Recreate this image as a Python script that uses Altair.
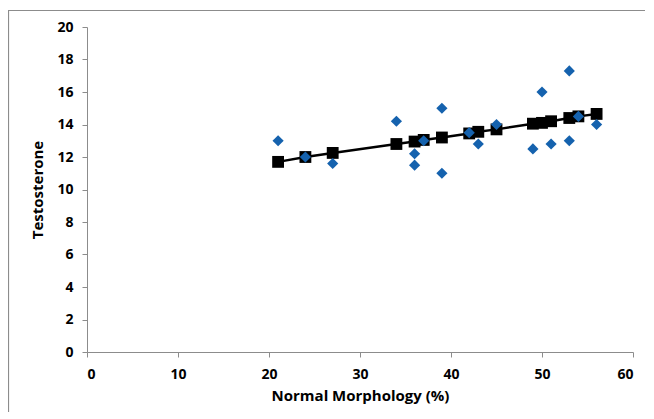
import altair as alt
import pandas as pd

# Observed data (blue diamonds)
obs_x = [21, 24, 27, 34, 36, 36, 37, 39, 39, 42, 43, 45, 49, 50, 51, 53, 53, 54, 56]
obs_y = [13.0, 12.0, 11.6, 14.2, 12.2, 11.5, 13.0, 15.0, 11.0, 13.5, 12.8, 14.0, 12.5, 16.0, 12.8, 17.3, 13.0, 14.5, 14.0]

# Fitted values (black squares + line)
fit_x = [21, 24, 27, 34, 36, 37, 39, 42, 43, 45, 49, 50, 51, 53, 54, 56]
fit_y = [11.7, 12.0, 12.25, 12.8, 12.95, 13.05, 13.2, 13.45, 13.55, 13.7, 14.05, 14.1, 14.2, 14.4, 14.5, 14.65]

x_title = "Normal Morphology (%)"
y_title = "Testosterone"

obs = pd.DataFrame({"x": obs_x, "y": obs_y})
fit = pd.DataFrame({"x": fit_x, "y": fit_y})

FONT = "Open Sans"

xenc = alt.X("x:Q", scale=alt.Scale(domain=[0, 60], nice=False),
             axis=alt.Axis(title=x_title, values=[0, 10, 20, 30, 40, 50, 60]))
yenc = alt.Y("y:Q", scale=alt.Scale(domain=[0, 20], nice=False),
             axis=alt.Axis(title=y_title, values=list(range(0, 21, 2))))

frame = alt.Chart(pd.DataFrame({"a": [0]})).mark_rect(
    fill="white", fillOpacity=0, stroke="#8c8c8c", strokeWidth=1.2, clip=False
).encode(x=alt.value(-78.5), x2=alt.value(600), y=alt.value(-16.5), y2=alt.value(420))

line = alt.Chart(fit).mark_line(color="black", strokeWidth=2.5).encode(x=xenc, y=yenc)
squares = alt.Chart(fit).mark_point(shape="square", filled=True, color="black", size=140, opacity=1).encode(x=xenc, y=yenc)
diamonds = alt.Chart(obs).mark_point(shape="diamond", filled=True, color="#1562AE", size=125, opacity=1).encode(x=xenc, y=yenc)

chart = alt.layer(frame, line, squares, diamonds).properties(
    width=546, height=325,
    autosize=alt.AutoSizeParams(type="none"),
    padding={"left": 79, "top": 19, "right": 12, "bottom": 60},
).configure_view(stroke=None).configure_axis(
    grid=False,
    domainColor="#8c8c8c",
    tickColor="#8c8c8c",
    tickSize=5,
    labelFont=FONT,
    labelFontSize=14,
    labelFontWeight="bold",
    labelColor="black",
    titleFont=FONT,
    titleFontSize=15,
    titleFontWeight="bold",
    titleColor="black",
).configure_axisX(
    labelPadding=10,
    titlePadding=7,
).configure_axisY(
    labelPadding=9,
    titlePadding=11,
)

chart.save("out.html", embed_options={"renderer": "svg", "actions": False})
